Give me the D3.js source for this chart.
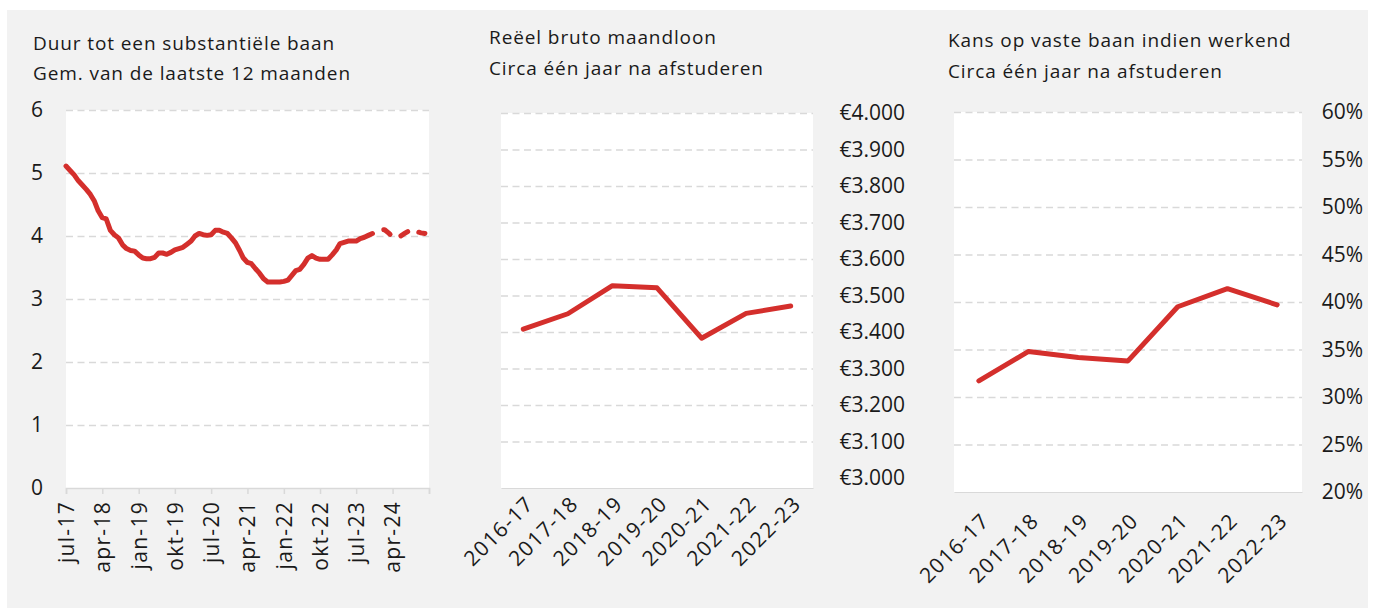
<!DOCTYPE html>
<html><head>
<meta charset="utf-8">
<title>Afgestudeerden</title>
<script src="https://d3js.org/d3.v7.min.js"></script>
<style>
  body { margin: 0; background: #ffffff; }
  svg text { font-family: 'Open Sans', sans-serif; fill: #1a1a1a; }
  .title { font-size: 19px; letter-spacing: 0.9px; }
  .tick text { font-size: 21px; }
  .xlab .tick text { letter-spacing: 1.3px; }
  .grid line { stroke: #d9d9d9; stroke-width: 1.5px; stroke-dasharray: 7,4.5; }
  .grid .domain { display: none; }
</style>
</head>
<body>
<svg id="chart" width="1375" height="608"></svg>
<script>

// ---- data: panel 1 (monthly, jul-17 .. dec-24, moving avg of 12 months)
const durationStart = [2017, 6];   // jul-17
const durationValues = [
  5.11, 5.04, 4.97, 4.88, 4.81, 4.74, 4.66, 4.55, 4.40, 4.29,
  4.27, 4.09, 4.02, 3.97, 3.86, 3.80, 3.77, 3.76, 3.70, 3.65,
  3.64, 3.64, 3.66, 3.73, 3.73, 3.71, 3.74, 3.78, 3.80, 3.82,
  3.87, 3.92, 4.00, 4.04, 4.02, 4.01, 4.02, 4.09, 4.09, 4.06,
  4.04, 3.97, 3.89, 3.77, 3.65, 3.58, 3.56, 3.48, 3.41, 3.32,
  3.27, 3.27, 3.27, 3.27, 3.28, 3.30, 3.37, 3.45, 3.47, 3.55,
  3.65, 3.69, 3.65, 3.63, 3.63, 3.63, 3.70, 3.78, 3.88, 3.90,
  3.92, 3.92, 3.92, 3.96, 3.98, 4.01, 4.04, 4.06, 4.09, 4.10,
  4.05, 3.99, 3.98, 4.00, 4.04, 4.08, 4.10, 4.07, 4.05, 4.04
];
const durationDashedFrom = 76;     // index where the line turns dashed
const durationTickLabels = ["jul-17","apr-18","jan-19","okt-19","jul-20","apr-21","jan-22","okt-22","jul-23","apr-24",""];
const durationYTicks = [0, 1, 2, 3, 4, 5, 6];

// ---- data: panel 2 and 3 (per study year)
const years = ["2016-17","2017-18","2018-19","2019-20","2020-21","2021-22","2022-23"];
const wageValues = [3408, 3450, 3527, 3521, 3383, 3451, 3471];
const wageTicks = [3000, 3100, 3200, 3300, 3400, 3500, 3600, 3700, 3800, 3900, 4000];
const permanentValues = [31.7, 34.8, 34.15, 33.8, 39.5, 41.4, 39.7];
const permanentTicks = [20, 25, 30, 35, 40, 45, 50, 55, 60];

const titles = [
  ["Duur tot een substantiële baan", "Gem. van de laatste 12 maanden"],
  ["Reëel bruto maandloon", "Circa één jaar na afstuderen"],
  ["Kans op vaste baan indien werkend", "Circa één jaar na afstuderen"]
];

const red = "#d42f2c";
const svg = d3.select("#chart");

svg.append("rect").attr("x", 7).attr("y", 10).attr("width", 1361).attr("height", 598).attr("fill", "#f2f2f2");

// titles
const titlePos = [[33, 50, 80], [489, 44, 75], [948, 47, 78]];
titles.forEach((t, i) => {
  svg.append("text").attr("class", "title").attr("x", titlePos[i][0]).attr("y", titlePos[i][1]).text(t[0]);
  svg.append("text").attr("class", "title").attr("x", titlePos[i][0]).attr("y", titlePos[i][2]).text(t[1]);
});

// ============ panel 1
const p1 = { left: 66, right: 429, top: 110, bottom: 488 };
const monthDate = i => new Date(durationStart[0], durationStart[1] + i, 1);
const x1 = d3.scaleTime().domain([monthDate(0), monthDate(90)]).range([p1.left, p1.right]);
const y1 = d3.scaleLinear().domain([0, 6]).range([p1.bottom, p1.top]);

svg.append("rect").attr("x", p1.left).attr("y", p1.top).attr("width", p1.right - p1.left).attr("height", p1.bottom - p1.top).attr("fill", "#fff");

svg.append("g").attr("class", "grid")
  .attr("transform", `translate(${p1.left},0)`)
  .call(d3.axisRight(y1).tickValues(durationYTicks.slice(1)).tickSize(p1.right - p1.left).tickFormat(""));

svg.append("g")
  .attr("transform", `translate(${p1.left},0)`)
  .call(d3.axisLeft(y1).tickValues(durationYTicks).tickSize(0).tickPadding(23).tickFormat(d3.format("d")))
  .call(g => g.select(".domain").remove());

const tickDates = durationTickLabels.map((d, i) => monthDate(i * 9));
const xAxis1 = svg.append("g").attr("class", "xlab")
  .attr("transform", `translate(0,${p1.bottom})`)
  .call(d3.axisBottom(x1).tickValues(tickDates).tickSize(6).tickFormat((d, i) => durationTickLabels[i]));
xAxis1.select(".domain").attr("stroke", "#d9d9d9").attr("stroke-width", 1.5);
xAxis1.selectAll(".tick line").attr("stroke", "#d9d9d9").attr("stroke-width", 1.5);
xAxis1.selectAll(".tick text")
  .attr("text-anchor", "end")
  .attr("transform", "rotate(-90)")
  .attr("x", -13).attr("y", 0).attr("dy", "0.35em");

const line1 = d3.line().x(d => x1(monthDate(d.i))).y(d => y1(d.v));
const durData = durationValues.map((v, i) => ({ i: i, v: v }));

svg.append("path")
  .datum(durData.slice(0, durationDashedFrom + 1))
  .attr("fill", "none").attr("stroke", red).attr("stroke-width", 5)
  .attr("stroke-linejoin", "round").attr("stroke-linecap", "round")
  .attr("d", line1);

svg.append("path")
  .datum(durData.slice(durationDashedFrom))
  .attr("fill", "none").attr("stroke", red).attr("stroke-width", 5)
  .attr("stroke-linejoin", "round").attr("stroke-linecap", "round")
  .attr("stroke-dasharray", "8,12").attr("stroke-dashoffset", 8)
  .attr("d", line1);

// ============ panel 2 + 3 (same layout, different scales)
function yearPanel(box, yDomain, ticks, values, fmt, labelEnd, labelDrop) {
  const x = d3.scalePoint().domain(years).range([box.left, box.right]).padding(0.5);
  const y = d3.scaleLinear().domain(yDomain).range([box.axisBottom, box.top]);

  svg.append("rect").attr("x", box.left).attr("y", box.top).attr("width", box.right - box.left).attr("height", box.bottom - box.top).attr("fill", "#fff");

  svg.append("g").attr("class", "grid")
    .attr("transform", `translate(${box.left},0)`)
    .call(d3.axisRight(y).tickValues(ticks.slice(1)).tickSize(box.right - box.left).tickFormat(""));

  const ya = svg.append("g")
    .attr("transform", `translate(${box.right},0)`)
    .call(d3.axisRight(y).tickValues(ticks).tickSize(0).tickFormat(fmt));
  ya.select(".domain").remove();
  ya.selectAll(".tick text").attr("text-anchor", "end").attr("x", labelEnd - box.right);

  const xa = svg.append("g").attr("class", "xlab")
    .attr("transform", `translate(0,${box.bottom})`)
    .call(d3.axisBottom(x).tickSize(0));
  xa.select(".domain").attr("stroke", "#d9d9d9");
  xa.selectAll(".tick text")
    .attr("text-anchor", "end")
    .attr("transform", `translate(6,${labelDrop}) rotate(-45)`)
    .attr("x", 0).attr("y", 0).attr("dy", "0.35em");

  svg.append("path")
    .datum(values)
    .attr("fill", "none").attr("stroke", red).attr("stroke-width", 5)
    .attr("stroke-linejoin", "round").attr("stroke-linecap", "round")
    .attr("d", d3.line().x((d, i) => x(years[i])).y(d => y(d)));
}

const euro = d3.formatLocale({ decimal: ",", thousands: ".", grouping: [3], currency: ["€", ""] }).format("$,d");

yearPanel({ left: 501, right: 813, top: 113, bottom: 488, axisBottom: 478 },
  [3000, 4000], wageTicks, wageValues, euro, 905, 12);

yearPanel({ left: 954, right: 1302, top: 112, bottom: 492, axisBottom: 492 },
  [20, 60], permanentTicks, permanentValues, d => d + "%", 1363, 25);

</script>
</body>
</html>
